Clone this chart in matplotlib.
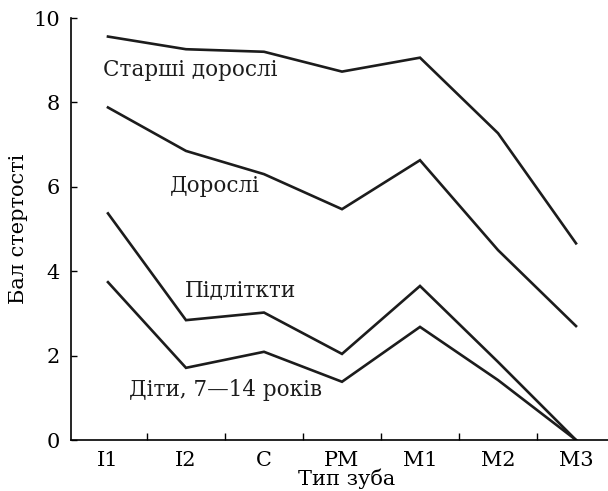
import numpy as np
import matplotlib.pyplot as plt

plt.rcParams['font.family'] = ['DejaVu Serif']

teeth = ["I1", "I2", "C", "PM", "M1", "M2", "M3"]

# бал стертості по групах
old_adults = [9.56, 9.26, 9.20, 8.73, 9.06, 7.27, 4.66]
adults = [7.88, 6.85, 6.30, 5.47, 6.63, 4.50, 2.70]
teens = [5.37, 2.84, 3.02, 2.04, 3.65, 1.85, 0.0]
children = [3.74, 1.71, 2.09, 1.38, 2.68, 1.42, 0.0]

labels = ["Старші дорослі", "Дорослі", "Підліткти", "Діти, 7—14 років"]
label_pos = [(-0.06, 8.77), (0.79, 6.03), (0.99, 3.55), (0.27, 1.18)]

W, H = 608, 491
fig = plt.figure(figsize=(W / 100, H / 100), dpi=100)
ax = fig.add_axes([71 / W, (H - 440) / H, (W - 71) / W, (440 - 18) / H])

x = np.arange(len(teeth))
for s in (old_adults, adults, teens, children):
    ax.plot(x, s, color="#1c1c1c", lw=1.9, solid_joinstyle="miter")

for t, (lx, ly) in zip(labels, label_pos):
    ax.text(lx, ly, t, fontsize=15.5, color="#1c1c1c", ha="left", va="center")

ax.set_xlim(-0.474, 6.41)
ax.set_ylim(0, 10)
ax.set_yticks([0, 2, 4, 6, 8, 10])
ax.set_xticks(x)
ax.set_xticklabels(teeth)
ax.set_xticks(x[:-1] + 0.5, minor=True)
ax.tick_params(axis="x", which="major", length=0, pad=8, labelsize=15)
ax.tick_params(axis="x", which="minor", direction="in", length=5, width=1)
ax.tick_params(axis="y", direction="in", length=4, width=1, pad=8, labelsize=15)

for sp in ("top", "right"):
    ax.spines[sp].set_visible(False)
for sp in ("left", "bottom"):
    ax.spines[sp].set_linewidth(1.2)

ax.set_ylabel("Бал стертості", fontsize=15)
ax.yaxis.set_label_coords(-0.08, 0.5)
ax.set_xlabel("Тип зуба", fontsize=15)
ax.xaxis.set_label_coords((347 - 71) / (W - 71), -0.068)

fig.savefig("out.png", dpi=100)
